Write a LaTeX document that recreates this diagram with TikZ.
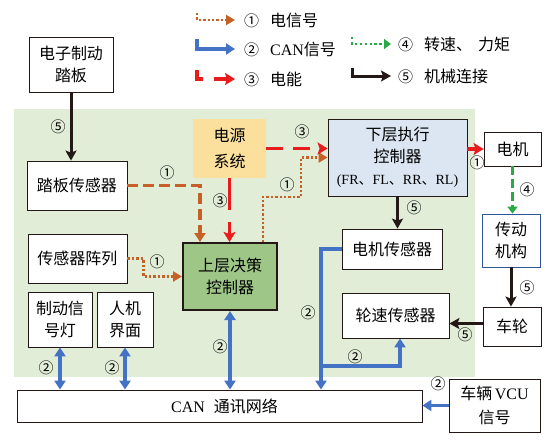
\documentclass[tikz,border=0pt]{standalone}
\usepackage{fontspec}
\setmainfont{Liberation Serif}
\newfontfamily\cjk{Noto Sans CJK SC}
\usetikzlibrary{arrows.meta}
\usetikzlibrary{positioning}
\definecolor{sigbrown}{RGB}{197,96,38}
\definecolor{canblue}{RGB}{68,114,196}
\definecolor{pwrred}{RGB}{232,28,28}
\definecolor{trqgreen}{RGB}{40,170,70}
\definecolor{mechblack}{RGB}{35,24,21}
\definecolor{bggreen}{RGB}{226,237,216}
\definecolor{pwrfill}{RGB}{250,223,157}
\definecolor{lowfill}{RGB}{220,230,242}
\definecolor{upfill}{RGB}{157,198,135}
\definecolor{transblue}{RGB}{47,85,151}
\newcommand{\cnum}[1]{{\fontsize{15}{15}\selectfont #1}}

\tikzset{
  box/.style={draw=mechblack, line width=0.8pt, fill=white, align=center, inner sep=0pt,
    font=\cjk\fontsize{16}{22}\selectfont},
  tag/.style={font=\cjk\fontsize{15}{15}\selectfont, inner sep=0pt},
  legtext/.style={font=\cjk\fontsize{16}{16}\selectfont, inner sep=0pt, anchor=west},
  mech/.style={mechblack, line width=3pt, -{Stealth[length=10pt,width=11pt,inset=2pt]}},
  canline/.style={canblue, line width=3.5pt, -{Triangle[length=9pt,width=11pt]}},
  canboth/.style={canline, {Triangle[length=9pt,width=11pt]}-{Triangle[length=9pt,width=11pt]}},
  sigdash/.style={sigbrown, line width=3.5pt, dash pattern=on 11pt off 5pt, -{Triangle[length=9pt,width=11pt]}},
  sigdot/.style={sigbrown, line width=2.6pt, dash pattern=on 2.4pt off 2pt, -{Triangle[length=9pt,width=10pt]}},
  pwr/.style={pwrred, line width=3.5pt, dash pattern=on 17pt off 10pt, -{Stealth[length=10pt,width=12pt,inset=2pt]}},
  torq/.style={trqgreen, line width=3.5pt, dash pattern=on 9pt off 4pt, -{Triangle[length=7pt,width=10pt]}}
}

\begin{document}
\begin{tikzpicture}[x=1pt,y=-1pt]
\useasboundingbox (0,0) rectangle (558,445);
\fill[bggreen] (14,109) rectangle (475,377);

% blocks
\node[box, minimum width=84pt, minimum height=55pt] (pedal) at (71,64.5) {电子制动\\踏板};
\node[box, minimum width=100pt, minimum height=49pt] (pedalsens) at (77,185.5) {踏板传感器};
\node[box, draw=none, fill=pwrfill, minimum width=73pt, minimum height=59pt] (power) at (229.5,148.5) {电源\\[4pt]系统};
\node[box, fill=lowfill, minimum width=139pt, minimum height=77pt] (lower) at (397.5,157.5)
  {下层执行\\控制器\\{\fontsize{14}{14}\selectfont{\rmfamily(FR}、{\rmfamily FL}、{\rmfamily RR}、{\rmfamily RL)}}};
\node[box, fill=upfill, line width=2pt, minimum width=94pt, minimum height=67pt] (upper) at (230,276.5) {上层决策\\控制器};
\node[box, minimum width=100pt, minimum height=40pt] (motsens) at (392,249) {电机传感器};
\node[box, minimum width=107pt, minimum height=45pt] (wheelsens) at (395.5,315.5) {轮速传感器};
\node[box, minimum width=99pt, minimum height=49pt] (sensarr) at (77.5,258.5) {传感器阵列};
\node[box, minimum width=64pt, minimum height=55pt] (lamp) at (60,319.5) {制动信\\号灯};
\node[box, minimum width=56pt, minimum height=55pt] (hmi) at (125,319.5) {人机\\界面};
\node[box, minimum width=405pt, minimum height=32pt] (can) at (219.5,406) {\hspace*{10pt}{\rmfamily CAN}\hspace{9pt}通讯网络};
\node[box, minimum width=91pt, minimum height=53pt] (vcu) at (494.5,405.5) {车辆\,{\rmfamily VCU}\\[2pt]信号};
\node[box, minimum width=57pt, minimum height=34pt] (motor) at (512.5,149) {电机};
\node[box, draw=transblue, minimum width=58pt, minimum height=53pt] (trans) at (511,240.5) {传动\\机构};
\node[box, minimum width=58pt, minimum height=39pt] (wheel) at (512,326.5) {车轮};

% mechanical links
\draw[mech] (pedal.south) -- (pedal.south |- pedalsens.north);
\draw[mech] (lower.south) -- (lower.south |- motsens.north);
\draw[mech] (trans.south) -- (trans.south |- wheel.north);
\draw[mech] ([yshift=3pt]wheel.west) -- ([yshift=3pt]wheel.west -| wheelsens.east);

% electric signals
\draw[sigdash] (pedalsens.east) -| ([xshift=18pt]upper.north west);
\draw[sigdot] (sensarr.east) -- ++(16,0) |- (upper.west);
\draw[sigdot] ([xshift=-15pt]upper.north east) -- ++(0,-45) -- ++(38,0) |- (lower.west);
\draw[pwr] (lower.east |- motor.west) -- (motor.west);

% power
\draw[pwr] (power.east) -- (power.east -| lower.west);
\draw[pwr, dash pattern=on 32pt off 12pt] (power.south) -- (power.south |- upper.north);

% torque
\draw[torq] (motor.south) -- (motor.south |- trans.north);

% CAN bus
\coordinate (busj) at (321,366);
\draw[canline] (motsens.west) -| (busj) -- (busj |- can.north);
\draw[canline] (busj) -| ([xshift=4.5pt]wheelsens.south);
\draw[canline] (vcu.west) -- (vcu.west -| can.east);
\draw[canboth] (upper.south) -- (upper.south |- can.north);
\draw[canboth] (lamp.south) -- (lamp.south |- can.north);
\draw[canboth] (hmi.south) -- (hmi.south |- can.north);

% link numbers
\foreach \x/\y/\t [count=\i] in {58/127/⑤, 167/173/①, 220/201/③, 302/132/③, 287/185/①,
    157/262/①, 414/208/⑤, 477/163/①, 527/190/④, 527/288/⑤, 465/335/⑤,
    308/313/②, 355/357/②, 438/384/②, 220/347/②, 46/368/②, 112/368/②}
  \node[tag] (tag\i) at (\x,\y) {\t};

% legend
\node[legtext] (leg1) at (244,20) {\cnum{①}\hspace{11pt}电信号};
\node[legtext] (leg2) at (244,49) {\cnum{②}\hspace{11pt}{\rmfamily CAN}信号};
\node[legtext] (leg3) at (244,79) {\cnum{③}\hspace{11pt}电能};
\node[legtext] (leg4) at (398,44) {\cnum{④}\hspace{11pt}转速、\hspace{6pt}力矩};
\node[legtext] (leg5) at (398,76) {\cnum{⑤}\hspace{11pt}机械连接};
\draw[sigdot] ([shift={(-47pt,7pt)}]leg1.west) |- ([xshift=-9pt]leg1.west);
\draw[canline] ([shift={(-47pt,10pt)}]leg2.west) |- ([xshift=-9pt]leg2.west);
\draw[pwr, dash pattern=on 15pt off 11pt] ([shift={(-47pt,9pt)}]leg3.west) |- ([xshift=-9pt]leg3.west);
\draw[torq, line width=2.6pt, dash pattern=on 2.4pt off 2.5pt] ([shift={(-46pt,7pt)}]leg4.west) |- ([xshift=-7pt]leg4.west);
\draw[mech] ([shift={(-46pt,8pt)}]leg5.west) |- ([xshift=-7pt]leg5.west);
\end{tikzpicture}
\end{document}
